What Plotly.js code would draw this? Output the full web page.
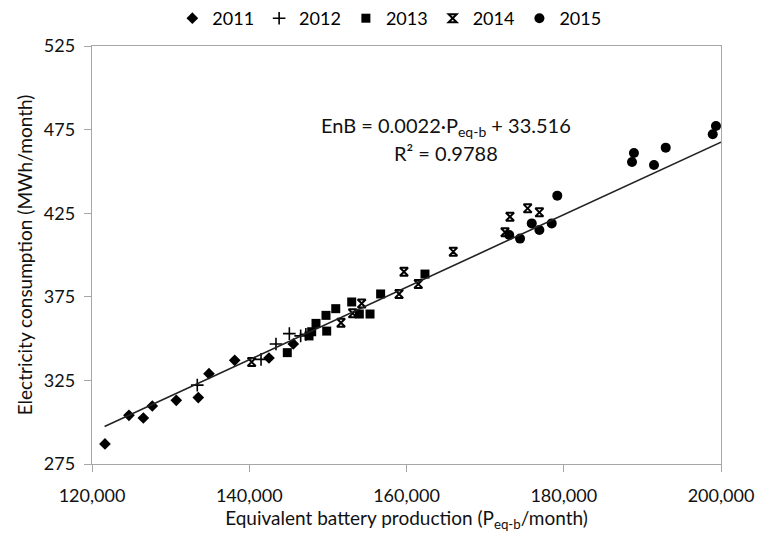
<!DOCTYPE html>
<html><head><meta charset="utf-8">
<script src="https://cdn.plot.ly/plotly-3.0.1.min.js"></script>
<style>html,body{margin:0;padding:0;background:#fff}#chart{width:771px;height:538px}</style>
</head><body><div id="chart"></div>
<script>
// Data
const x2011 = [121650,124700,126530,127670,130720,133520,134880,138150,142510,145600];
const y2011 = [287.0,304.1,302.5,309.7,313.1,314.7,329.0,337.0,338.4,346.8];
const x2012 = [133390,141500,143400,145100,146540,147200];
const y2012 = [322.2,337.6,346.8,353.0,351.6,352.5];
const x2013 = [144840,147600,147940,148490,149760,149850,151000,153030,154000,155360,156710,162350];
const y2013 = [341.6,351.6,354.1,359.1,363.9,354.5,367.9,371.9,364.7,364.7,376.7,388.6];
const x2014 = [140310,151670,153150,154300,159050,159680,161500,165950,172530,173160,175410,176900];
const y2014 = [336.0,359.5,365.1,371.0,376.7,390.0,382.7,402.0,413.6,422.9,427.9,425.5];
const x2015 = [173070,174440,175930,176900,178470,179180,188680,188930,191480,192970,198950,199360];
const y2015 = [412.0,409.8,418.9,415.0,418.9,435.5,455.6,461.0,453.8,464.2,472.2,477.2];
const seriesNames = ['2011','2012','2013','2014','2015'];
const xTickVals = [120000,140000,160000,180000,200000];
const yTickVals = [275,325,375,425,475,525];
// trend line as drawn in the reference (slope shown rounded as 0.0022)
const trendSlope = 0.00217;
const trendIntercept = 33.516;
const trendX = [121600, 200000];
const equationText = 'EnB = 0.0022·P<sub>eq-b</sub> + 33.516';
const r2Text = 'R² = 0.9788';

const trendY = trendX.map(v => trendSlope * v + trendIntercept);

const font = "Lato, 'Open Sans', sans-serif";
const data = [
 {x:x2011,y:y2011,name:seriesNames[0],mode:'markers',type:'scatter',marker:{symbol:'diamond',size:9,color:'#000'}},
 {x:x2012,y:y2012,name:seriesNames[1],mode:'markers',type:'scatter',marker:{symbol:'cross-thin-open',size:9,color:'#000',line:{width:1.6,color:'#000'}}},
 {x:x2013,y:y2013,name:seriesNames[2],mode:'markers',type:'scatter',marker:{symbol:'square',size:9,color:'#000'}},
 {x:x2014,y:y2014,name:seriesNames[3],mode:'markers',type:'scatter',marker:{symbol:'hourglass-open',size:8,color:'#000',line:{width:2,color:'#000'}}},
 {x:x2015,y:y2015,name:seriesNames[4],mode:'markers',type:'scatter',marker:{symbol:'circle',size:10,color:'#000'}},
 {x:trendX,y:trendY,mode:'lines',type:'scatter',showlegend:false,line:{color:'#222',width:1.6},hoverinfo:'skip'}
];
const layout = {
 width:771,height:538,
 margin:{l:92,r:50,t:46,b:74},
 paper_bgcolor:'#fff',plot_bgcolor:'#fff',
 font:{family:font,size:18,color:'#111'},
 showlegend:true,
 legend:{orientation:'h',xref:'container',yref:'container',x:0.505,xanchor:'center',y:1.0,yanchor:'top',font:{size:18,color:'#000'},itemwidth:30,tracegroupgap:0},
 xaxis:{range:[120000,200000],tickvals:xTickVals,tickformat:',d',showgrid:false,zeroline:false,
   showline:true,mirror:true,linecolor:'#a6a6a6',linewidth:1.3,ticks:'outside',ticklen:7,tickcolor:'#a6a6a6',
   ticklabelstandoff:8,
   tickfont:{size:18,color:'#111'},
   title:{text:'Equivalent battery production (P<sub>eq-b</sub>/month)',font:{size:19,color:'#111'},standoff:4}},
 yaxis:{range:[275,525],tickvals:yTickVals,showgrid:false,zeroline:false,
   showline:true,mirror:true,linecolor:'#a6a6a6',linewidth:1.3,ticks:'outside',ticklen:7,tickcolor:'#a6a6a6',
   ticklabelstandoff:5,
   tickfont:{size:18,color:'#111'},
   title:{text:'Electricity consumption (MWh/month)',font:{size:19,color:'#111'},standoff:6}},
 annotations:[
  {xref:'x',yref:'y',x:165000,y:476.6,text:equationText,showarrow:false,font:{size:20,color:'#111'},xanchor:'center',yanchor:'middle'},
  {xref:'x',yref:'y',x:165000,y:461.0,text:r2Text,showarrow:false,font:{size:20,color:'#111'},xanchor:'center',yanchor:'middle'}
 ]
};
Plotly.newPlot('chart',data,layout,{displayModeBar:false,staticPlot:true});
</script></body></html>
